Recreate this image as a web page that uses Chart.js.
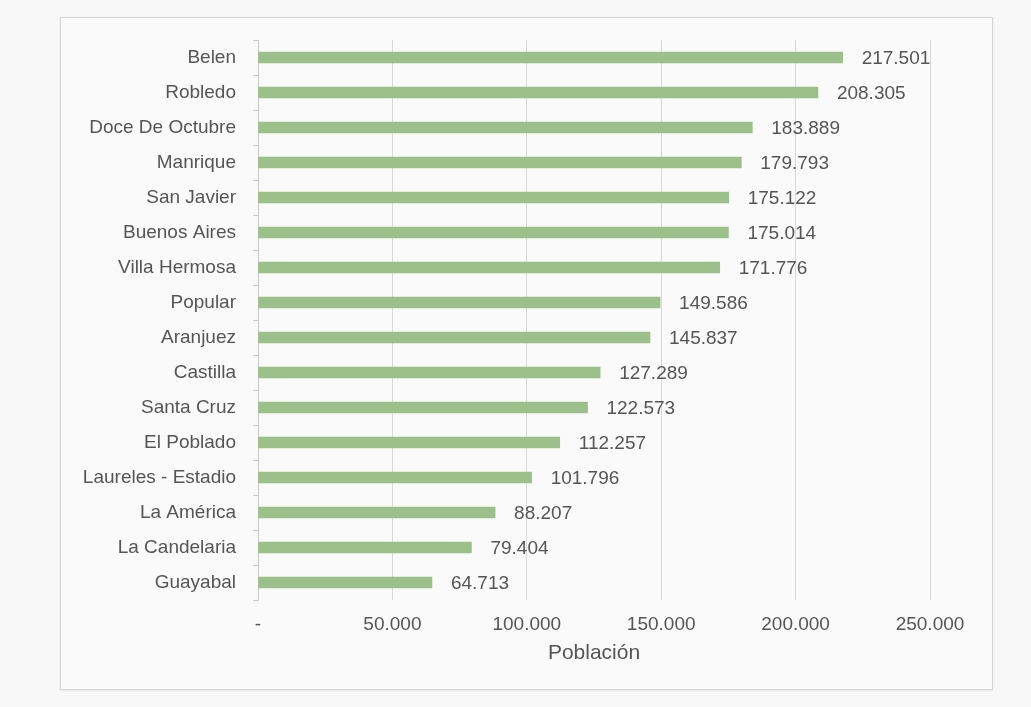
<!DOCTYPE html>
<html>
<head>
<meta charset="utf-8">
<script src="https://cdn.jsdelivr.net/npm/chart.js@4.4.1/dist/chart.umd.min.js"></script>
<style>
    html, body {
        margin: 0;
        padding: 0;
        background: #f8f8f8;
        width: 1031px;
        height: 707px;
        overflow: hidden;
    }
    #frame {
        position: absolute;
        left: 60px;
        top: 17px;
        width: 931px;
        height: 671px;
        border: 1px solid #d6d6d6;
        background: #fafafa;
        box-shadow: 0 1px 2px rgba(0, 0, 0, 0.08);
    }
    #chart-wrap {
        position: absolute;
        left: 0;
        top: 0;
        width: 1031px;
        height: 707px;
    }
</style>
</head>
<body>
<div id="frame"></div>
<div id="chart-wrap"><canvas id="poblacionChart"></canvas></div>
<script>
// Población por comuna
const comunas = [
    "Belen", "Robledo", "Doce De Octubre", "Manrique", "San Javier",
    "Buenos Aires", "Villa Hermosa", "Popular", "Aranjuez", "Castilla",
    "Santa Cruz", "El Poblado", "Laureles - Estadio", "La América",
    "La Candelaria", "Guayabal"
];
const poblacion = [
    217501, 208305, 183889, 179793, 175122,
    175014, 171776, 149586, 145837, 127289,
    122573, 112257, 101796, 88207,
    79404, 64713
];
const xTickLabels = ["-", "50.000", "100.000", "150.000", "200.000", "250.000"];

const textColor = "#555555";
const fontFamily = "'Liberation Sans', Arial, sans-serif";

// thousands with dots, e.g. 217.501
function formatMiles(n) {
    return String(n).replace(/\B(?=(\d{3})+(?!\d))/g, ".");
}

// value text at the end of each bar
const valueLabels = {
    id: "valueLabels",
    afterDatasetsDraw(chart) {
        const ctx = chart.ctx;
        const meta = chart.getDatasetMeta(0);
        ctx.save();
        ctx.font = "19px " + fontFamily;
        ctx.fillStyle = textColor;
        ctx.textAlign = "left";
        ctx.textBaseline = "middle";
        meta.data.forEach((bar, i) => {
            ctx.fillText(formatMiles(poblacion[i]), bar.x + 19, bar.y + 1);
        });
        ctx.restore();
    }
};

const ctx = document.getElementById("poblacionChart").getContext("2d");

new Chart(ctx, {
    type: "bar",
    data: {
        labels: comunas,
        datasets: [{
            label: "Población",
            data: poblacion,
            backgroundColor: "#9cc08a",
            barThickness: 11
        }]
    },
    options: {
        indexAxis: "y",
        responsive: true,
        maintainAspectRatio: false,
        animation: false,
        layout: {
            padding: { left: 58, right: 101, top: 40, bottom: 41 }
        },
        plugins: {
            legend: { display: false },
            tooltip: { enabled: false }
        },
        scales: {
            x: {
                min: 0,
                max: 250000,
                ticks: {
                    stepSize: 50000,
                    color: textColor,
                    font: { family: fontFamily, size: 19 },
                    padding: 13,
                    callback: (value, index) => xTickLabels[index]
                },
                grid: {
                    color: "#d9d9d9",
                    lineWidth: 1,
                    drawTicks: false
                },
                border: { display: false },
                title: {
                    display: true,
                    text: "Población",
                    color: textColor,
                    font: { family: fontFamily, size: 21 },
                    padding: { top: 9, bottom: 0 }
                },
                afterFit: (scale) => { scale.height = 66; }
            },
            y: {
                ticks: {
                    color: textColor,
                    font: { family: fontFamily, size: 19 },
                    padding: 17
                },
                grid: {
                    offset: true,
                    drawOnChartArea: false,
                    color: "#c8c8c8",
                    tickLength: 5
                },
                border: { display: true, color: "#c8c8c8" },
                afterFit: (scale) => { scale.width = 200; }
            }
        }
    },
    plugins: [valueLabels]
});
</script>
</body>
</html>
